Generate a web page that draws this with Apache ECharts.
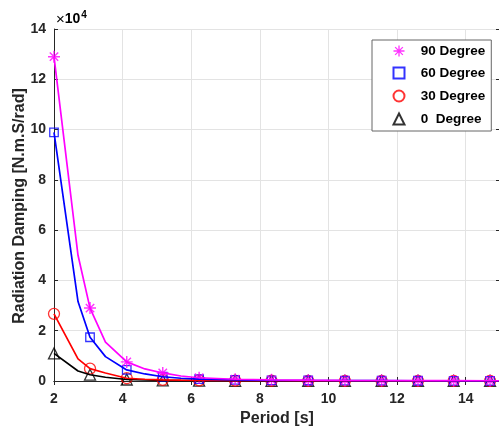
<!DOCTYPE html>
<html>
<head>
<meta charset="utf-8">
<script src="https://cdn.jsdelivr.net/npm/echarts@6/dist/echarts.min.js"></script>
<style>
html,body{margin:0;padding:0;background:#fff;}
#c{width:499px;height:430px;}
</style>
</head>
<body>
<div id="c"></div>
<script>
// Period [s] of the computed curve points
var periods = [2, 2.7, 3.05, 3.5, 4.12, 4.65, 5.17, 5.7, 6.23, 7.28, 8.34, 9.41, 10.48, 11.55, 12.61, 13.65, 14.71, 15];
// indices of the points that carry a marker
var markerIdx = [0, 2, 4, 6, 8, 9, 10, 11, 12, 13, 14, 15, 16];
// Radiation damping [N.m.S/rad]
var deg90 = [129000, 50000, 29000, 15500, 7600, 4800, 3200, 2000, 1300, 700, 450, 320, 240, 190, 150, 120, 100, 95];
var deg60 = [98900, 31600, 17400, 9700, 4400, 2800, 1700, 1100, 750, 420, 280, 200, 150, 120, 95, 80, 65, 60];
var deg30 = [26700, 8800, 4900, 3200, 1100, 700, 450, 320, 230, 130, 90, 65, 50, 40, 32, 27, 23, 22];
var deg0  = [11000, 4000, 2500, 1500, 600, 400, 250, 170, 120, 70, 45, 33, 25, 20, 16, 13, 11, 10];
var names = ['90 Degree', '60 Degree', '30 Degree', '0  Degree'];
var xTicks = [2, 4, 6, 8, 10, 12, 14];
var yTitle = 'Radiation Damping [N.m.S/rad]';

var ASTERISK = 'path://M-1.2 -10 L1.2 -10 L1.2 10 L-1.2 10 Z M-10 -1.2 L10 -1.2 L10 1.2 L-10 1.2 Z M-7.85 -6.15 L-6.15 -7.85 L7.85 6.15 L6.15 7.85 Z M6.15 -7.85 L7.85 -6.15 L-6.15 7.85 L-7.85 6.15 Z';

function pts(vals) { return periods.map(function (p, i) { return [p, vals[i]]; }); }
function mk(vals) { return markerIdx.map(function (i) { return [periods[i], vals[i]]; }); }

var curves = [
  {name: names[3], vals: deg0,  color: '#000000', symbol: 'triangle', size: 11, hollow: true},
  {name: names[2], vals: deg30, color: '#FF0000', symbol: 'circle', size: 11, hollow: true},
  {name: names[1], vals: deg60, color: '#0000FF', symbol: 'rect', size: 8.5, hollow: true},
  {name: names[0], vals: deg90, color: '#FF00FF', symbol: ASTERISK, size: 12, hollow: false}
];

var series = [];
curves.forEach(function (c) {
  series.push({
    type: 'line', data: pts(c.vals), showSymbol: false, symbol: 'none',
    lineStyle: {color: c.color, width: 1.7}, itemStyle: {color: c.color},
    silent: true, legendHoverLink: false
  });
  series.push({
    type: 'scatter', name: c.name, data: mk(c.vals), symbol: c.symbol, symbolSize: c.size,
    itemStyle: c.hollow ? {color: 'none', borderColor: c.color, borderWidth: 1.3} : {color: c.color},
    silent: true
  });
});

var axisCol = '#262626';
var font = 'Arial, "Liberation Sans", sans-serif';
var chart = echarts.init(document.getElementById('c'), null, {renderer: 'canvas'});
chart.setOption({
  animation: false,
  backgroundColor: '#ffffff',
  grid: {left: 54, top: 29, width: 446, height: 352, containLabel: false, outerBoundsMode: 'none'},
  xAxis: [{
    type: 'value', min: 2, max: 15, interval: 2, position: 'bottom',
    name: 'Period [s]', nameLocation: 'middle', nameGap: 28,
    nameTextStyle: {fontFamily: font, fontWeight: 'bold', fontSize: 16, color: axisCol},
    axisLine: {lineStyle: {color: axisCol, width: 1}},
    axisTick: {inside: true, length: 4, lineStyle: {color: axisCol}},
    axisLabel: {fontFamily: font, fontWeight: 'bold', fontSize: 14, color: axisCol, margin: 11, showMaxLabel: false,
      formatter: function (v) { return xTicks.indexOf(v) >= 0 ? String(v) : ''; }},
    splitLine: {show: true, lineStyle: {color: '#e3e3e3', width: 1}}
  }, {
    type: 'value', min: 2, max: 15, interval: 2, position: 'top',
    axisLine: {lineStyle: {color: axisCol, width: 1}},
    axisTick: {inside: true, length: 4, lineStyle: {color: axisCol}},
    axisLabel: {show: false}, splitLine: {show: false}
  }],
  yAxis: [{
    type: 'value', min: 0, max: 140000, interval: 20000, position: 'left',
    axisLine: {show: true, lineStyle: {color: axisCol, width: 1}},
    axisTick: {show: true, inside: true, length: 4, lineStyle: {color: axisCol}},
    axisLabel: {fontFamily: font, fontWeight: 'bold', fontSize: 14, color: axisCol, margin: 8,
      formatter: function (v) { return String(v / 10000); }},
    splitLine: {show: true, lineStyle: {color: '#e3e3e3', width: 1}}
  }, {
    type: 'value', min: 0, max: 140000, interval: 20000, position: 'right',
    axisLine: {show: true, lineStyle: {color: axisCol, width: 1}},
    axisTick: {show: true, inside: true, length: 4, lineStyle: {color: axisCol}},
    axisLabel: {show: false}, splitLine: {show: false}
  }],
  legend: {
    data: names, orient: 'vertical', left: 372, top: 40,
    padding: [4, 6, 4, 19], itemGap: 7, itemWidth: 11, itemHeight: 11,
    backgroundColor: '#ffffff', borderColor: '#666666', borderWidth: 1,
    selectedMode: false,
    formatter: function (n) { return '   ' + n; },
    textStyle: {fontFamily: font, fontWeight: 'bold', fontSize: 13.5, color: '#000000'}
  },
  graphic: [{
    type: 'text', left: 56, top: 10,
    style: {
      text: '{x|×}{n|10}{s|4}',
      rich: {
        x: {fontFamily: font, fontSize: 15, color: axisCol, fontWeight: 'normal'},
        n: {fontFamily: font, fontSize: 14, color: axisCol, fontWeight: 'bold'},
        s: {fontFamily: font, fontSize: 10, color: axisCol, fontWeight: 'bold', padding: [0, 0, 9, 1]}
      }
    }
  }, {
    type: 'text', x: 19.5, y: 206, rotation: Math.PI / 2,
    style: {
      text: yTitle, fontFamily: font, fontWeight: 'bold', fontSize: 16, fill: axisCol,
      textAlign: 'center', textVerticalAlign: 'middle'
    }
  }],
  series: series
});
</script>
</body>
</html>
